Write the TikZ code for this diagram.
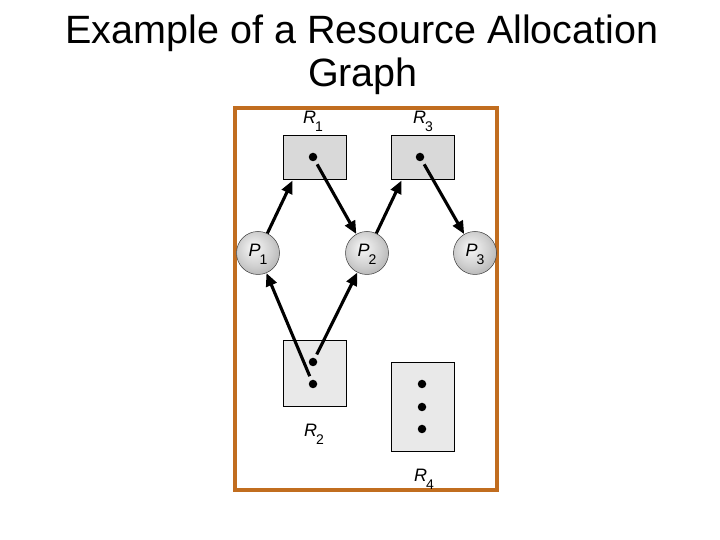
\documentclass[tikz,border=0pt]{standalone}
\usepackage{fontspec}
\setmainfont{Liberation Sans}
\usetikzlibrary{arrows.meta}

\definecolor{frameorange}{RGB}{193,109,31}
\pgfdeclareradialshading{procshade}{\pgfpoint{-6bp}{7bp}}{color(0bp)=(gray!4); color(10bp)=(gray!22); color(20bp)=(gray!38); color(27bp)=(gray!52); color(50bp)=(gray!52)}
\newcommand\lsub[1]{\kern-1.2pt\raisebox{-8pt}{\fontsize{14}{14}\selectfont #1}}

\tikzset{
  resbox/.style={draw=black, line width=1pt, minimum width=63pt, inner sep=0pt},
  procnode/.style={circle, draw=gray!45!black, line width=0.5pt, minimum size=43pt, inner sep=0pt,
    shading=procshade, text height=8pt, text depth=0pt, font=\fontsize{18}{18}\selectfont},
  instdot/.style={circle, fill=black, minimum size=8.5pt, inner sep=0pt},
  reqarrow/.style={line width=3.1pt, -{Triangle[length=13pt,width=11pt]}},
  reslabel/.style={anchor=base, font=\fontsize{18}{18}\selectfont}
}

\begin{document}
\begin{tikzpicture}[x=1pt,y=1pt]
  \useasboundingbox (0,0) rectangle (720,540);
  % title
  \node[anchor=base, font=\fontsize{39.5}{43}\selectfont] (title1) at (362,496) {Example of a Resource Allocation};
  \node[anchor=base, font=\fontsize{39.5}{43}\selectfont] (title2) at (363,453) {Graph};
  \draw[frameorange, line width=3.8pt] (235,432) rectangle (497,50);

  % resources
  \node[resbox, fill=gray!30, minimum height=44pt] (R1) at (314.5,382) {};
  \node[resbox, fill=gray!30, minimum height=44pt] (R3) at (422.5,382) {};
  \node[resbox, fill=gray!17, minimum height=66pt] (R2) at (314.5,166) {};
  \node[resbox, fill=gray!17, minimum height=89pt] (R4) at (422.5,132.5) {};
  \node[instdot] (R1dot) at (313,383) {};
  \node[instdot] (R3dot) at (420,383) {};
  \node[instdot] (R2top) at (313,178) {};
  \node[instdot] (R2bot) at (313,156) {};
  \foreach \y/\n in {156/a,133/b,111/c}
    \node[instdot] (R4\n) at (422,\y) {};
  \node[reslabel] (R1lbl) at (313,416.7) {\textit{R}\lsub{1}};
  \node[reslabel] (R3lbl) at (423,416.7) {\textit{R}\lsub{3}};
  \node[reslabel] (R2lbl) at (314,103.3) {\textit{R}\lsub{2}};
  \node[reslabel] (R4lbl) at (424,58.3) {\textit{R}\lsub{4}};

  % processes
  \node[procnode] (P1) at (258,287) {\textit{P}\lsub{1}};
  \node[procnode] (P2) at (367,287) {\textit{P}\lsub{2}};
  \node[procnode] (P3) at (475,287) {\textit{P}\lsub{3}};

  % requests and assignments
  \draw[reqarrow] (P1) -- ([xshift=10pt]R1.south west);
  \draw[reqarrow] (P2) -- ([xshift=11pt]R3.south west);
  \draw[reqarrow, shorten <=4pt] (R1dot) -- (P2);
  \draw[reqarrow, shorten <=4pt] (R3dot) -- (P3);
  \draw[reqarrow, shorten <=4pt] (R2bot) -- (P1);
  \draw[reqarrow, shorten <=4pt] (R2top) -- (P2);
\end{tikzpicture}
\end{document}
